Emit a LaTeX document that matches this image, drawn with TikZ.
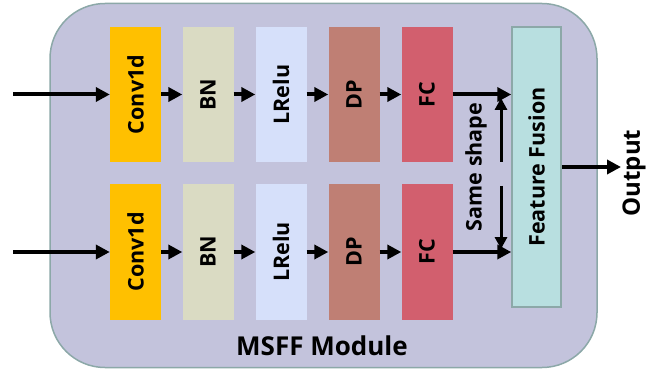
\documentclass[tikz,border=0pt]{standalone}
\usepackage{fontspec}
\setmainfont{Open Sans}
\usetikzlibrary{arrows.meta}
\definecolor{bgc}{HTML}{C3C3DC}
\definecolor{bdc}{HTML}{8CA8A8}
\definecolor{convc}{HTML}{FFC000}
\definecolor{bnc}{HTML}{DADBC3}
\definecolor{lreluc}{HTML}{D6E0FA}
\definecolor{dpc}{HTML}{BF7F74}
\definecolor{fcc}{HTML}{D25F6E}
\definecolor{ffc}{HTML}{B8DFE0}
\tikzset{
  x=1pt,y=1pt,
  blk/.style={inner sep=0pt,rotate=90,font=\fontsize{21.5}{23}\selectfont\bfseries,text=black},
  arr/.style={line width=4pt,-{Triangle[length=14pt,width=14pt]}},
  lbl/.style={font=\fontsize{21.5}{23}\selectfont\bfseries,inner sep=0pt}
}
\begin{document}
\begin{tikzpicture}
\useasboundingbox (0,0) rectangle (660,-371);
\node[draw=bdc,fill=bgc,line width=1.5pt,rounded corners=55pt,minimum width=547pt,minimum height=364pt,inner sep=0pt] (mod) at (323.5,-185.5) {};
% top row
\node[blk,fill=convc,minimum width=135pt,minimum height=51pt] (c1) at (135.5,-94.5) {Conv1d};
\node[blk,fill=bnc,minimum width=135pt,minimum height=51pt] (b1) at (208,-94.5) {BN};
\node[blk,fill=lreluc,minimum width=135pt,minimum height=51pt] (l1) at (281,-94.5) {LRelu};
\node[blk,fill=dpc,minimum width=135pt,minimum height=51pt] (d1) at (354,-94.5) {DP};
\node[blk,fill=fcc,minimum width=135pt,minimum height=51pt] (f1) at (427,-94.5) {FC};
% bottom row
\node[blk,fill=convc,minimum width=136pt,minimum height=51pt] (c2) at (135.5,-252) {Conv1d};
\node[blk,fill=bnc,minimum width=136pt,minimum height=51pt] (b2) at (208,-252) {BN};
\node[blk,fill=lreluc,minimum width=136pt,minimum height=51pt] (l2) at (281,-252) {LRelu};
\node[blk,fill=dpc,minimum width=136pt,minimum height=51pt] (d2) at (354,-252) {DP};
\node[blk,fill=fcc,minimum width=136pt,minimum height=51pt] (f2) at (427,-252) {FC};
% feature fusion
\node[blk,draw=bdc,line width=1.5pt,fill=ffc,minimum width=280pt,minimum height=49pt] (ff) at (536.5,-167) {Feature Fusion};
% inputs
\coordinate (in1) at (13,-94.5);
\coordinate (in2) at (13,-252);
\draw[arr] (in1) -- (c1);
\draw[arr] (in2) -- (c2);
\draw[arr] (c1) -- (b1);
\draw[arr] (b1) -- (l1);
\draw[arr] (l1) -- (d1);
\draw[arr] (d1) -- (f1);
\draw[arr] (c2) -- (b2);
\draw[arr] (b2) -- (l2);
\draw[arr] (l2) -- (d2);
\draw[arr] (d2) -- (f2);
\draw[arr] (f1.south) -- (f1.south -| ff.north);
\draw[arr] (f2.south) -- (f2.south -| ff.north);
% same shape
\coordinate (s1a) at (501,-162);
\coordinate (s1b) at (501,-98);
\coordinate (s2a) at (501,-186);
\coordinate (s2b) at (501,-249);
\draw[line width=3pt,-{Triangle[length=12pt,width=12pt]}] (s1a) -- (s1b);
\draw[line width=3pt,-{Triangle[length=12pt,width=12pt]}] (s2a) -- (s2b);
\node[lbl,rotate=90] (ss) at (476,-167) {Same shape};
% output
\coordinate (out) at (621,-167);
\draw[arr] (ff.south) -- (out);
\node[lbl,rotate=90,font=\fontsize{24}{26}\selectfont\bfseries] (ot) at (634,-173) {Output};
\node[lbl,font=\fontsize{26}{28}\selectfont\bfseries] (ms) at (322,-346) {MSFF Module};
\end{tikzpicture}
\end{document}
